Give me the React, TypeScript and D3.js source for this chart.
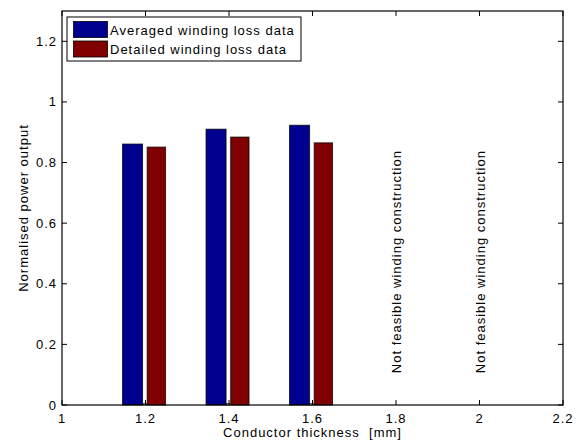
import React from "react";
import * as d3 from "d3";

const categories = [1.2, 1.4, 1.6];
const averagedValues = [0.861, 0.910, 0.923];
const detailedValues = [0.851, 0.884, 0.865];
const residualValues = [0.005, 0.005, 0.005];
const xTicks = [1, 1.2, 1.4, 1.6, 1.8, 2, 2.2];
const yTicks = [0, 0.2, 0.4, 0.6, 0.8, 1, 1.2];
const notFeasible = [1.8, 2.0];
const seriesNames = ["Averaged winding loss data", "Detailed winding loss data"];
const seriesColors = ["#00008f", "#800000"];

const W = 581;
const H = 445;
const M = { left: 62, right: 18, top: 11, bottom: 40 };
const FONT = "Liberation Sans, Arial, sans-serif";
const LS = 1;

export default function App() {
  const x = d3.scaleLinear().domain([1, 2.2]).range([M.left, W - M.right]);
  const y = d3.scaleLinear().domain([0, 1.3]).range([H - M.bottom, M.top]);
  const x0 = M.left, x1 = W - M.right, y0 = H - M.bottom, y1 = M.top;
  const tl = 5;
  const fmt = (v: number) => (Number.isInteger(v) ? String(v) : v.toFixed(1));

  const series = [
    { vals: averagedValues, lo: -0.055, hi: -0.007, color: seriesColors[0] },
    { vals: detailedValues, lo: 0.004, hi: 0.048, color: seriesColors[1] },
  ];

  return (
    <svg width={W} height={H} style={{ position: "absolute", left: 0, top: 0, background: "#fff" }}
      fontFamily={FONT}>
      <rect x={0} y={0} width={W} height={H} fill="#fff" />
      {/* bars */}
      {series.map((s, si) =>
        categories.map((c, i) => (
          <rect key={`b${si}-${i}`} x={x(c + s.lo)} y={y(s.vals[i])}
            width={x(c + s.hi) - x(c + s.lo)} height={y(0) - y(s.vals[i])}
            fill={s.color} stroke="#000" strokeWidth={1} strokeOpacity={0.75} />
        ))
      )}
      {categories.map((c, i) => (
        <rect key={`r${i}`} x={x(c - 0.006)} y={y(residualValues[i])}
          width={x(c + 0.002) - x(c - 0.006)} height={y(0) - y(residualValues[i])}
          fill="#fff" stroke="#000" strokeWidth={0.6} />
      ))}
      {/* annotations */}
      {notFeasible.map((v) => (
        <text key={`nf${v}`} transform={`translate(${x(v) + 5},${y(0.105)}) rotate(-90)`}
          fontSize={13} letterSpacing={LS} fill="#000">Not feasible winding construction</text>
      ))}
      {/* axes box */}
      <rect x={x0} y={y1} width={x1 - x0} height={y0 - y1} fill="none" stroke="#000" strokeWidth={1.2} />
      {xTicks.map((t) => (
        <g key={`xt${t}`}>
          <line x1={x(t)} x2={x(t)} y1={y0} y2={y0 - tl} stroke="#000" />
          <line x1={x(t)} x2={x(t)} y1={y1} y2={y1 + tl} stroke="#000" />
          <text x={x(t)} y={y0 + 17.5} textAnchor="middle" fontSize={13} letterSpacing={LS}>{fmt(t)}</text>
        </g>
      ))}
      {yTicks.map((t) => (
        <g key={`yt${t}`}>
          <line x1={x0} x2={x0 + tl} y1={y(t)} y2={y(t)} stroke="#000" />
          <line x1={x1} x2={x1 - tl} y1={y(t)} y2={y(t)} stroke="#000" />
          <text x={x0 - 5} y={y(t) + 4.5} textAnchor="end" fontSize={13} letterSpacing={LS}>{fmt(t)}</text>
        </g>
      ))}
      {/* axis labels */}
      <text x={(x0 + x1) / 2} y={437} textAnchor="middle" fontSize={13} letterSpacing={LS}
        style={{ whiteSpace: "pre" }}>{"Conductor thickness  [mm]"}</text>
      <text transform={`translate(28,${(y0 + y1) / 2}) rotate(-90)`} textAnchor="middle" fontSize={13}
        letterSpacing={LS}>
        Normalised power output
      </text>
      {/* legend */}
      <g>
        <rect x={67} y={17} width={234} height={44} fill="#fff" stroke="#000" strokeWidth={1} />
        {seriesNames.map((n, i) => (
          <g key={n}>
            <rect x={73.5} y={21.5 + i * 19.5} width={34} height={16} fill={seriesColors[i]}
              stroke="#000" strokeWidth={0.8} />
            <text x={110} y={34.5 + i * 19.5} fontSize={13} letterSpacing={LS}>{n}</text>
          </g>
        ))}
      </g>
    </svg>
  );
}
